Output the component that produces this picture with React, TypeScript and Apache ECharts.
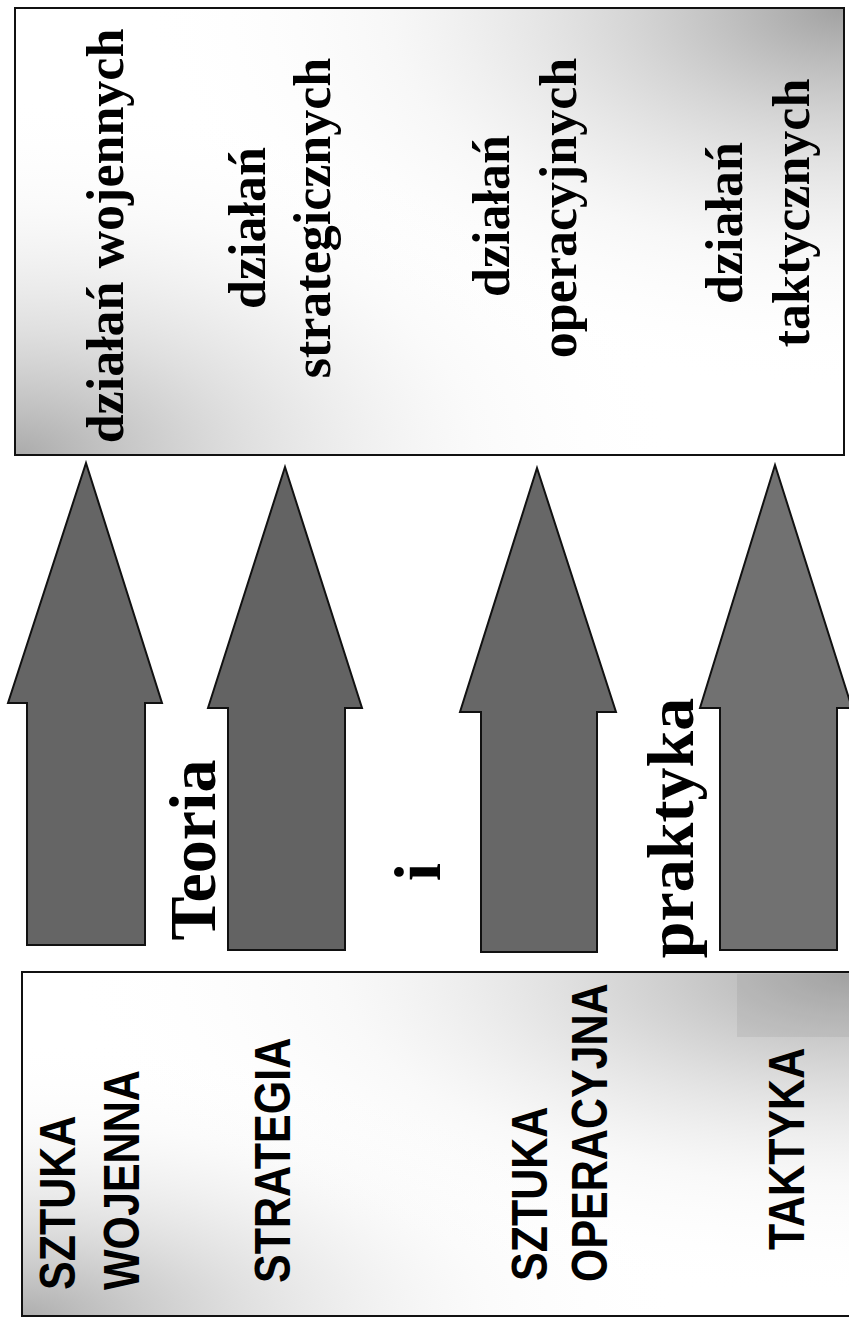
import React, { useEffect, useRef } from "react";
import * as echarts from "echarts";

// ---- content ----
const topColumns: string[][] = [
  ["działań wojennych"],
  ["działań", "strategicznych"],
  ["działań", "operacyjnych"],
  ["działań", "taktycznych"],
];
const bottomColumns: string[][] = [
  ["SZTUKA", "WOJENNA"],
  ["STRATEGIA"],
  ["SZTUKA", "OPERACYJNA"],
  ["TAKTYKA"],
];
const middleWords: string[] = ["Teoria", "i", "praktyka"];

// ---- layout (positions kept apart from the content) ----
const topLinePos: number[][][] = [
  [[105.5, 236]],
  [[247.5, 228], [312.5, 218]],
  [[491.5, 216], [558.5, 208]],
  [[724.5, 223], [791.5, 213]],
];
const bottomLinePos: number[][][] = [
  [[58, 1290], [122, 1290]],
  [[273, 1283]],
  [[530, 1281], [590, 1282]],
  [[787, 1250]],
];
const middlePos: number[][] = [[192.7, 850], [417.7, 872], [670.7, 828]];

const arrowShapes = [
  { tip: [86, 463], head: [8, 162], base: 703, shaft: [27, 145], bottom: 945, fill: "#656565" },
  { tip: [285, 467], head: [208, 362], base: 708, shaft: [228, 345], bottom: 950, fill: "#636363" },
  { tip: [537, 468], head: [460, 616], base: 712, shaft: [481, 597], bottom: 952, fill: "#676767" },
  { tip: [775, 465], head: [700, 852], base: 708, shaft: [720, 837], bottom: 950, fill: "#717171" },
];

const SERIF = '"Liberation Serif", "Times New Roman", serif';
const SANS = '"Liberation Sans", Arial, sans-serif';

function rotText(text: string, x: number, y: number, opts: any) {
  return {
    type: "text",
    x,
    y,
    rotation: Math.PI / 2,
    scaleX: opts.scaleX ?? 1,
    z: 20,
    silent: true,
    style: {
      text,
      fill: "#000",
      fontFamily: opts.family,
      fontWeight: "bold",
      fontSize: opts.size,
      textAlign: opts.align,
      align: opts.align,
      textVerticalAlign: "middle",
      verticalAlign: "middle",
    },
  };
}

function radial(cx: number, cy: number, r: number, stops: [number, string][]) {
  return new echarts.graphic.RadialGradient(
    cx,
    cy,
    r,
    stops.map(([offset, color]) => ({ offset, color }))
  );
}

export default function App() {
  const ref = useRef<HTMLDivElement>(null);

  useEffect(() => {
    if (!ref.current) return;
    const chart = echarts.init(ref.current, undefined, { renderer: "svg" });

    const topBox = { x: 15, y: 8, width: 829, height: 447 };
    const botBox = { x: 22, y: 972, width: 832, height: 344 };

    const elements: any[] = [];

    // top box
    elements.push({ type: "rect", shape: topBox, style: { fill: "#ffffff" }, z: 1 });
    elements.push({
      type: "rect",
      shape: topBox,
      z: 2,
      style: {
        fill: radial(1, 0, 0.85, [
          [0, "rgba(120,120,120,0.7)"],
          [0.3, "rgba(155,155,155,0.42)"],
          [0.65, "rgba(205,205,205,0.15)"],
          [1, "rgba(255,255,255,0)"],
        ]),
      },
    });
    elements.push({
      type: "rect",
      shape: topBox,
      z: 3,
      style: {
        fill: radial(0, 1, 0.8, [
          [0, "rgba(125,125,125,0.65)"],
          [0.35, "rgba(165,165,165,0.35)"],
          [0.7, "rgba(215,215,215,0.12)"],
          [1, "rgba(255,255,255,0)"],
        ]),
      },
    });
    elements.push({ type: "rect", shape: topBox, z: 5, style: { fill: "none", stroke: "#111", lineWidth: 2 } });

    // bottom box
    elements.push({ type: "rect", shape: botBox, style: { fill: "#ffffff" }, z: 1 });
    elements.push({
      type: "rect",
      shape: botBox,
      z: 2,
      style: {
        fill: radial(1, 0, 0.95, [
          [0, "rgba(120,120,120,0.65)"],
          [0.3, "rgba(155,155,155,0.4)"],
          [0.65, "rgba(210,210,210,0.14)"],
          [1, "rgba(255,255,255,0)"],
        ]),
      },
    });
    elements.push({
      type: "rect",
      shape: botBox,
      z: 3,
      style: {
        fill: radial(0, 1, 0.8, [
          [0, "rgba(130,130,130,0.65)"],
          [0.35, "rgba(170,170,170,0.35)"],
          [0.7, "rgba(220,220,220,0.12)"],
          [1, "rgba(255,255,255,0)"],
        ]),
      },
    });
    elements.push({
      type: "rect",
      shape: { x: 737, y: 974, width: 115, height: 63 },
      z: 4,
      style: { fill: "rgba(120,120,120,0.14)" },
    });
    elements.push({ type: "rect", shape: botBox, z: 5, style: { fill: "none", stroke: "#111", lineWidth: 2 } });

    // arrows
    arrowShapes.forEach((a) => {
      elements.push({
        type: "polygon",
        z: 10,
        shape: {
          points: [
            [a.tip[0], a.tip[1]],
            [a.head[1], a.base],
            [a.shaft[1], a.base],
            [a.shaft[1], a.bottom],
            [a.shaft[0], a.bottom],
            [a.shaft[0], a.base],
            [a.head[0], a.base],
          ],
        },
        style: { fill: a.fill, stroke: "#111", lineWidth: 2, lineJoin: "miter" },
      });
    });

    // top texts
    topColumns.forEach((lines, ci) => {
      lines.forEach((line, li) => {
        const [x, y] = topLinePos[ci][li];
        elements.push(rotText(line, x, y, { family: SERIF, size: 52, align: "center" }));
      });
    });

    // bottom texts
    bottomColumns.forEach((lines, ci) => {
      lines.forEach((line, li) => {
        const [x, y] = bottomLinePos[ci][li];
        elements.push(rotText(line, x, y, { family: SANS, size: 50, align: "left", scaleX: 0.86 }));
      });
    });

    // middle words
    middleWords.forEach((w, i) => {
      const [x, y] = middlePos[i];
      elements.push(rotText(w, x, y, { family: SERIF, size: 66, align: "center" }));
    });

    chart.setOption({ animation: false, graphic: { elements } });

    return () => chart.dispose();
  }, []);

  return (
    <div
      ref={ref}
      style={{ position: "absolute", left: 0, top: 0, width: 849, height: 1318, background: "#ffffff" }}
    />
  );
}
